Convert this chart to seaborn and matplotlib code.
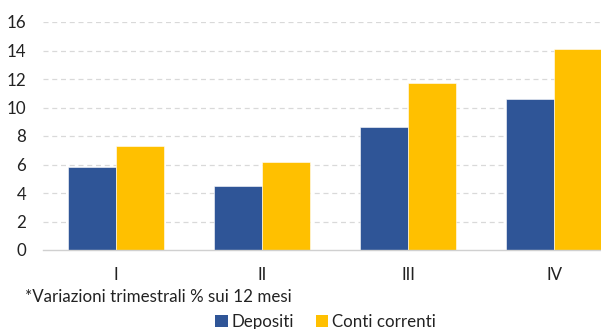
import matplotlib
matplotlib.use("Agg")
import matplotlib.pyplot as plt
import seaborn as sns
import pandas as pd
from matplotlib.patches import Patch

quarters = ["I", "II", "III", "IV"]
depositi = [5.8, 4.5, 8.6, 10.6]
conti_correnti = [7.3, 6.2, 11.7, 14.1]
series_names = ["Depositi", "Conti correnti"]
colors = ["#2F5597", "#FFC000"]
yticks = [0, 2, 4, 6, 8, 10, 12, 14, 16]
footnote = "*Variazioni trimestrali % sui 12 mesi"

df = pd.DataFrame({
    "trimestre": quarters * 2,
    "serie": [series_names[0]] * 4 + [series_names[1]] * 4,
    "valore": depositi + conti_correnti,
})

sns.set_style("white")
plt.rcParams["font.family"] = ["Lato", "DejaVu Sans"]

fig = plt.figure(figsize=(6.01, 3.29), dpi=100)
W, H = 601, 329
# axes spans past the right edge of the figure
ax = fig.add_axes([43 / W, 1 - 250 / H, (627 - 43) / W, (250 - 22) / H])

sns.barplot(data=df, x="trimestre", y="valore", hue="serie",
            palette=colors, width=0.66, ax=ax, legend=False,
            edgecolor="white", linewidth=0.4, saturation=1)

fs = 12.2
ax.set_ylim(0, 16)
ax.set_xlim(-0.5, 3.5)
ax.set_yticks(yticks)
ax.set_yticklabels([str(t) for t in yticks], fontsize=fs, color="#222222")
ax.set_xticklabels(quarters, fontsize=fs, color="#222222")
ax.set_xlabel("")
ax.set_ylabel("")
ax.tick_params(axis="both", length=0)
ax.tick_params(axis="y", pad=12)
ax.tick_params(axis="x", pad=12)

for t in yticks[1:]:
    ax.axhline(t, color="#d9d9d9", linestyle=(0, (4, 3)), linewidth=0.9, zorder=0)
ax.set_axisbelow(True)

for s in ["top", "right", "left"]:
    ax.spines[s].set_visible(False)
ax.spines["bottom"].set_color("#d0d0d0")
ax.spines["bottom"].set_linewidth(1.0)

fig.text(25 / W, 1 - 297 / H, footnote, fontsize=fs, color="#222222",
         ha="left", va="center")

handles = [Patch(facecolor=c, edgecolor="none") for c in colors]
fig.legend(handles, series_names, loc="center left", bbox_to_anchor=(215 / W, 1 - 322 / H),
           ncol=2, frameon=False, fontsize=fs, handlelength=0.75, handleheight=0.75,
           handletextpad=0.2, columnspacing=1.3, borderaxespad=0, borderpad=0)
for txt in fig.legends[0].get_texts():
    txt.set_color("#222222")

fig.savefig("out.png", dpi=100)
